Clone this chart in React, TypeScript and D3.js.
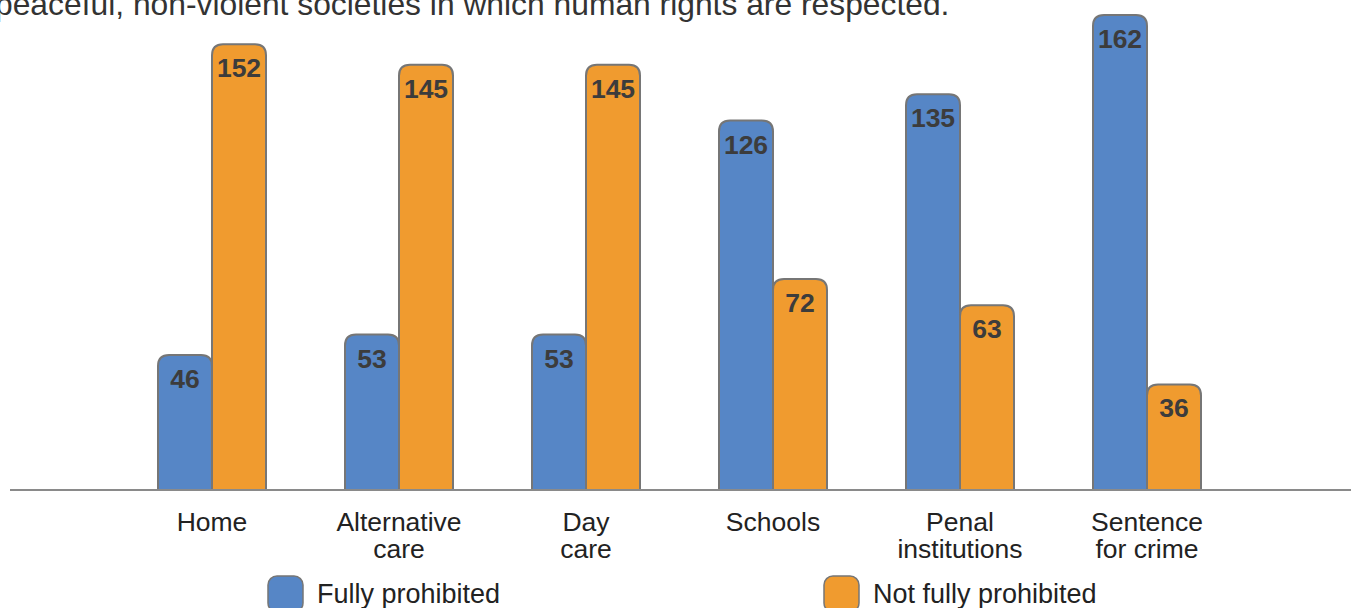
import React from "react";
import * as d3 from "d3";

const categories = [
  ["Home"],
  ["Alternative", "care"],
  ["Day", "care"],
  ["Schools"],
  ["Penal", "institutions"],
  ["Sentence", "for crime"],
];
const seriesNames = ["Fully prohibited", "Not fully prohibited"];
const fullyProhibited = [46, 53, 53, 126, 135, 162];
const notFullyProhibited = [152, 145, 145, 72, 63, 36];
const colors = ["#5686c6", "#f09b2f"];
const headline =
  "peaceful, non-violent societies in which human rights are respected.";

const W = 1351;
const H = 608;
const baseY = 490;

// bar with rounded top corners only
const topRoundedBar = (x: number, y: number, w: number, h: number, r: number) => {
  const rr = Math.min(r, w / 2, h);
  return `M${x},${y + h}V${y + rr}Q${x},${y} ${x + rr},${y}H${x + w - rr}Q${x + w},${y} ${x + w},${y + rr}V${y + h}Z`;
};

const App: React.FC = () => {
  const keys = categories.map((c) => c.join(" "));
  const x = d3.scaleBand<string>().domain(keys).range([118.5, 1240.5]).padding(0);
  const y = d3.scaleLinear().domain([0, 162]).range([baseY, 15]);
  const barW = 54;
  const inner = d3
    .scaleBand<number>()
    .domain([0, 1])
    .range([-barW, barW])
    .padding(0);

  const series = [fullyProhibited, notFullyProhibited];
  const font = "'Liberation Sans', Arial, Helvetica, sans-serif";

  return (
    <svg
      width={W}
      height={H}
      style={{ position: "absolute", left: 0, top: 0, display: "block" }}
      fontFamily={font}
    >
      <rect width={W} height={H} fill="#fff" />
      <text x={-5} y={15} fontSize={31.8} fill="#333">
        {headline}
      </text>

      {keys.map((k, i) => {
        const cx = x(k)! + x.bandwidth() / 2;
        return (
          <g key={k}>
            {series.map((vals, s) => {
              const v = vals[i];
              const bx = cx + inner(s)!;
              const top = y(v);
              return (
                <g key={s}>
                  <path
                    d={topRoundedBar(bx, top, inner.bandwidth(), baseY - top, 11)}
                    fill={colors[s]}
                    stroke="#767676"
                    strokeWidth={2}
                  />
                  <text
                    x={bx + inner.bandwidth() / 2}
                    y={top + 33}
                    textAnchor="middle"
                    fontSize={26.5}
                    fontWeight="bold"
                    fill="#3c3c3c"
                  >
                    {v}
                  </text>
                </g>
              );
            })}
            {categories[i].map((line, j) => (
              <text
                key={j}
                x={cx}
                y={531 + j * 27}
                textAnchor="middle"
                fontSize={26.5}
                fill="#222"
              >
                {line}
              </text>
            ))}
          </g>
        );
      })}

      <line x1={10} x2={W} y1={baseY} y2={baseY} stroke="#8a8a8a" strokeWidth={2} />

      {seriesNames.map((name, s) => {
        const lx = s === 0 ? 268 : 824;
        return (
          <g key={name}>
            <rect
              x={lx}
              y={576}
              width={35}
              height={36}
              rx={9}
              fill={colors[s]}
              stroke="#767676"
              strokeWidth={1.5}
            />
            <text x={lx + 49} y={603} fontSize={27} fill="#222">
              {name}
            </text>
          </g>
        );
      })}
    </svg>
  );
};

export default App;
